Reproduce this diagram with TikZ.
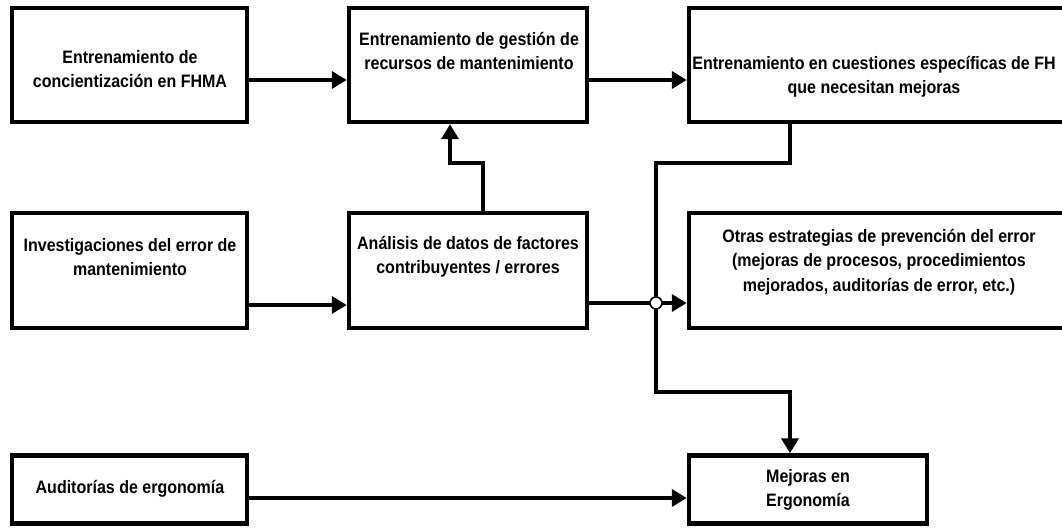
\documentclass[tikz,border=0pt]{standalone}
\usepackage{fontspec}
\newfontfamily\lab{Liberation Sans}[FakeStretch=0.89]
\usetikzlibrary{arrows.meta}
\begin{document}
\begin{tikzpicture}[x=1pt,y=-1pt,
  box/.style={draw, line width=4.5pt, inner sep=0pt, rectangle},
  txt/.style={align=center, inner sep=0pt, font=\lab\bfseries\fontsize{18}{24.5}\selectfont},
  arr/.style={line width=4.5pt, line join=miter, -{Triangle[length=15pt,width=17pt]}},
  junc/.style={circle, draw, line width=1.6pt, fill=white, minimum size=12pt, inner sep=0pt}]
\useasboundingbox (0,0) rectangle (1062,529);
\fill[white] (0,0) rectangle (1062,529);
\clip (0,0) rectangle (1062,529);
% boxes
\node[box, minimum width=235pt, minimum height=114pt] (b1) at (129.5,65) {};
\node[box, minimum width=238pt, minimum height=114pt] (b2) at (468,65) {};
\node[box, minimum width=381pt, minimum height=114pt] (b3) at (879.5,65) {};
\node[box, minimum width=235pt, minimum height=115pt] (b4) at (129.5,270.5) {};
\node[box, minimum width=238pt, minimum height=115pt] (b5) at (468,270.5) {};
\node[box, minimum width=381pt, minimum height=115pt] (b6) at (879.5,270.5) {};
\node[box, minimum width=235pt, minimum height=68pt] (b7) at (129.5,489.5) {};
\node[box, minimum width=238pt, minimum height=68pt] (b8) at (808,489.5) {};
% texts
\node[txt] (t1) at (130,69) {Entrenamiento de\\concientización en FHMA};
\node[txt] (t2) at (469,51) {Entrenamiento de gestión de\\recursos de mantenimiento};
\node[txt] (t3) at (874,77) {Entrenamiento en cuestiones específicas de FH\\que necesitan mejoras};
\node[txt] (t4) at (130,257) {Investigaciones del error de\\mantenimiento};
\node[txt] (t5) at (468,257) {Análisis de datos de factores\\contribuyentes / errores};
\node[txt] (t6) at (879,262) {Otras estrategias de prevención del error\\(mejoras de procesos, procedimientos\\mejorados, auditorías de error, etc.)};
\node[txt] (t7) at (130,489) {Auditorías de ergonomía};
\node[txt] (t8) at (808,490) {Mejoras en\\Ergonomía};
% connectors
\draw[arr] (b1.east |- 0,80) -- (b2.west |- 0,80);
\draw[arr] (b2.east |- 0,80) -- (b3.west |- 0,80);
\draw[arr] (b4.east |- 0,305) -- (b5.west |- 0,305);
\draw[arr] (b5.east |- 0,303) -- (b6.west |- 0,303);
\draw[arr] (b7.east |- 0,498) -- (b8.west |- 0,498);
\draw[arr] (483,0 |- b5.north) -- (483,163) -- (450,163) -- (450,0 |- b2.south);
\draw[arr] (790,0 |- b3.south) -- (790,163) -- (656,163) -- (656,392) -- (790,392) -- (790,0 |- b8.north);
\node[junc] (j) at (656,303) {};
\end{tikzpicture}
\end{document}
